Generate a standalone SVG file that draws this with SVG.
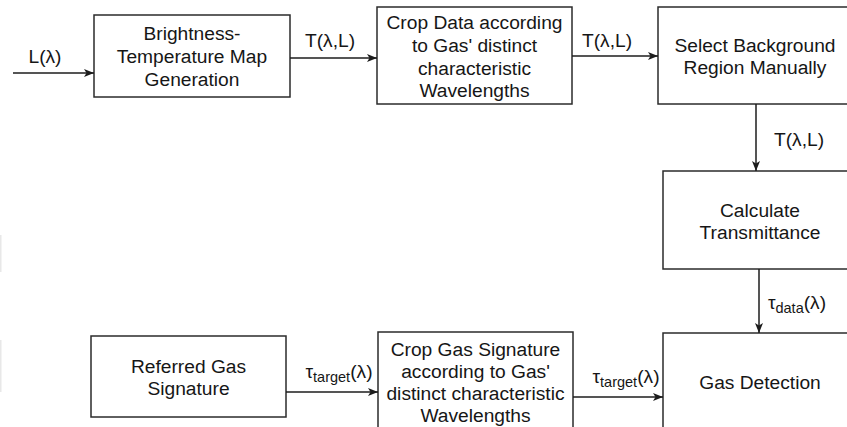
<svg xmlns="http://www.w3.org/2000/svg" width="847" height="427" viewBox="0 0 847 427">
  <style>
    .box { fill: #ffffff; stroke: #2b2b2b; stroke-width: 1.5; }
    .txt { font-family: "Liberation Sans", Arial, sans-serif; font-size: 19.2px; fill: #161616; text-anchor: middle; }
    .lbl { font-family: "Liberation Sans", Arial, sans-serif; font-size: 19.2px; fill: #161616; text-anchor: middle; }
    .sub { font-size: 14.5px; }
    .conn { stroke: #1c1c1c; stroke-width: 1.5; fill: none; marker-end: url(#arrow); }
    .edge { stroke: #e8e8e8; stroke-width: 2; }
  </style>
  <defs>
    <marker id="arrow" markerWidth="10" markerHeight="8" refX="10" refY="4" orient="auto" markerUnits="userSpaceOnUse">
      <path d="M0,0 L10,4 L0,8 L2.5,4 Z" fill="#1c1c1c"/>
    </marker>
  </defs>
  <rect width="847" height="427" fill="#ffffff"/>

  <!-- faint marks along the left edge -->
  <line class="edge" x1="0.5" y1="235" x2="0.5" y2="272"/>
  <line class="edge" x1="0.5" y1="340" x2="0.5" y2="392"/>

  <g id="brightness-map">
    <rect class="box" x="94" y="15" width="196" height="82"/>
    <text class="txt" x="192" y="40">Brightness-</text>
    <text class="txt" x="192" y="63">Temperature Map</text>
    <text class="txt" x="192" y="86">Generation</text>
  </g>

  <g id="crop-data">
    <rect class="box" x="377" y="7" width="195" height="97"/>
    <text class="txt" x="474.5" y="29">Crop Data according</text>
    <text class="txt" x="474.5" y="52">to Gas' distinct</text>
    <text class="txt" x="474.5" y="75">characteristic</text>
    <text class="txt" x="474.5" y="97">Wavelengths</text>
  </g>

  <g id="select-background">
    <rect class="box" x="658" y="7" width="200" height="97"/>
    <text class="txt" x="755" y="52">Select Background</text>
    <text class="txt" x="755" y="74">Region Manually</text>
  </g>

  <g id="calculate-transmittance">
    <rect class="box" x="663" y="171" width="200" height="98"/>
    <text class="txt" x="760" y="217">Calculate</text>
    <text class="txt" x="760" y="239">Transmittance</text>
  </g>

  <g id="gas-detection">
    <rect class="box" x="663" y="333" width="200" height="110"/>
    <text class="txt" x="760" y="389">Gas Detection</text>
  </g>

  <g id="referred-signature">
    <rect class="box" x="91" y="336" width="195" height="81"/>
    <text class="txt" x="188.5" y="373">Referred Gas</text>
    <text class="txt" x="188.5" y="395">Signature</text>
  </g>

  <g id="crop-signature">
    <rect class="box" x="378" y="332" width="195" height="110"/>
    <text class="txt" x="475.5" y="356">Crop Gas Signature</text>
    <text class="txt" x="475.5" y="378">according to Gas'</text>
    <text class="txt" x="475.5" y="400">distinct characteristic</text>
    <text class="txt" x="475.5" y="422">Wavelengths</text>
  </g>

  <g id="connectors">
    <line class="conn" x1="13" y1="73" x2="94" y2="73"/>
    <line class="conn" x1="290" y1="58" x2="377" y2="58"/>
    <line class="conn" x1="572" y1="56" x2="658" y2="56"/>
    <line class="conn" x1="756" y1="104" x2="756" y2="171"/>
    <line class="conn" x1="759" y1="269" x2="759" y2="333"/>
    <line class="conn" x1="286" y1="392" x2="378" y2="392"/>
    <line class="conn" x1="573" y1="397" x2="663" y2="397"/>

    <text class="lbl" x="45" y="63">L(λ)</text>
    <text class="lbl" x="330" y="47">T(λ,L)</text>
    <text class="lbl" x="607" y="47">T(λ,L)</text>
    <text class="lbl" x="799" y="146">T(λ,L)</text>
    <text class="lbl" x="797" y="309">τ<tspan class="sub" dy="4">data</tspan><tspan dy="-4">(λ)</tspan></text>
    <text class="lbl" x="339" y="378">τ<tspan class="sub" dy="4">target</tspan><tspan dy="-4">(λ)</tspan></text>
    <text class="lbl" x="626" y="383">τ<tspan class="sub" dy="4">target</tspan><tspan dy="-4">(λ)</tspan></text>
  </g>
</svg>
